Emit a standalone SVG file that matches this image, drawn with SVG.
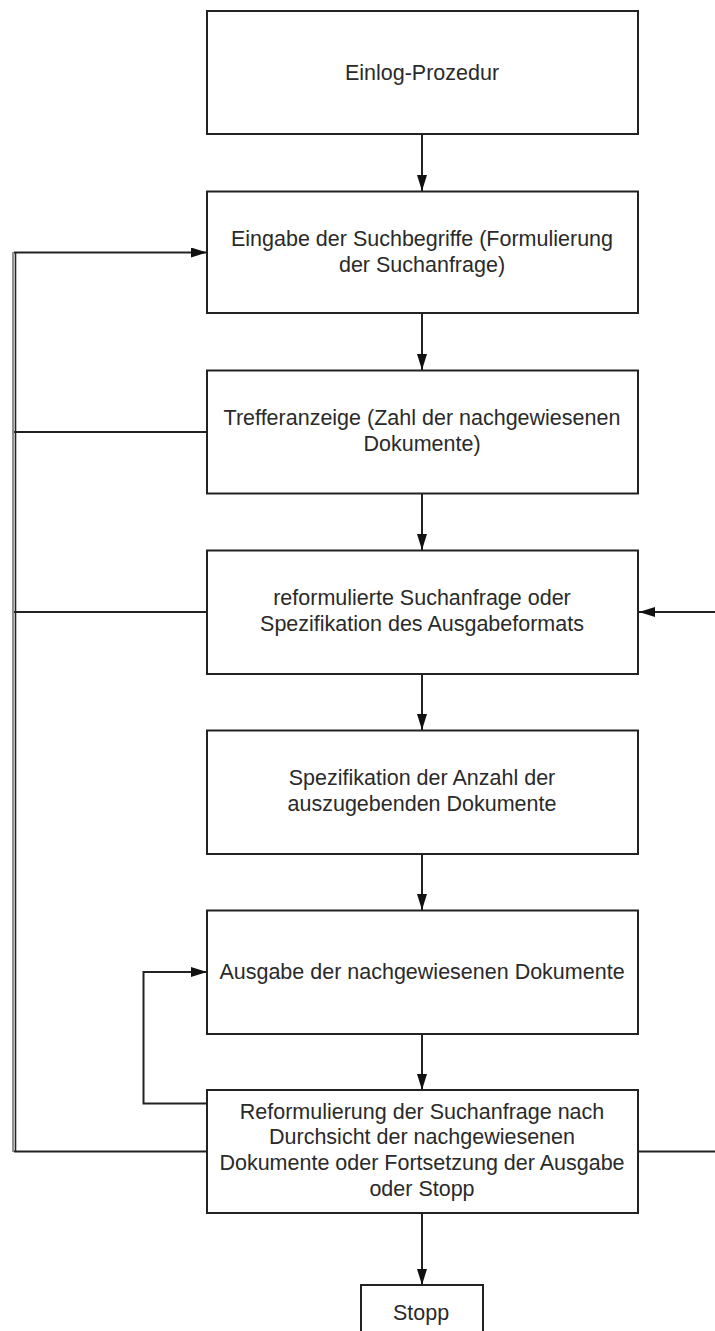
<svg xmlns="http://www.w3.org/2000/svg" width="715" height="1331" viewBox="0 0 715 1331">
  <defs>
    <style>
      .box { fill: #ffffff; stroke: #222222; stroke-width: 2; }
      .edge { fill: none; stroke: #222222; stroke-width: 2; }
      .label { font-family: "Liberation Sans", Arial, sans-serif; font-size: 21.5px; fill: #2a2a2a; text-anchor: middle; }
    </style>
    <marker id="arrow" markerUnits="userSpaceOnUse" markerWidth="17" markerHeight="11" refX="16" refY="5" orient="auto">
      <path d="M0,0 L16,5 L0,10 Z" fill="#111111"/>
    </marker>
  </defs>
  <rect width="715" height="1331" fill="#ffffff"/>

  <!-- connectors -->
  <g id="connectors">
    <!-- main downward flow -->
    <line class="edge" x1="422" y1="134" x2="422" y2="191" marker-end="url(#arrow)"/>
    <line class="edge" x1="422" y1="313" x2="422" y2="370" marker-end="url(#arrow)"/>
    <line class="edge" x1="422" y1="493" x2="422" y2="550" marker-end="url(#arrow)"/>
    <line class="edge" x1="422" y1="674" x2="422" y2="730" marker-end="url(#arrow)"/>
    <line class="edge" x1="422" y1="854" x2="422" y2="910" marker-end="url(#arrow)"/>
    <line class="edge" x1="422" y1="1034" x2="422" y2="1090" marker-end="url(#arrow)"/>
    <line class="edge" x1="422" y1="1213" x2="422" y2="1285" marker-end="url(#arrow)"/>

    <!-- left feedback bus -->
    <line x1="13" y1="252" x2="13" y2="1152" stroke="#555555" stroke-width="1.3"/>
    <line x1="15.5" y1="252" x2="15.5" y2="1152" stroke="#222222" stroke-width="1.6"/>
    <line class="edge" x1="14" y1="252.5" x2="207" y2="252.5" marker-end="url(#arrow)"/>
    <line class="edge" x1="14" y1="432" x2="207" y2="432"/>
    <line class="edge" x1="14" y1="612" x2="207" y2="612"/>
    <line class="edge" x1="14" y1="1151.5" x2="207" y2="1151.5"/>

    <!-- right feedback -->
    <line class="edge" x1="715" y1="612" x2="639" y2="612" marker-end="url(#arrow)"/>
    <line class="edge" x1="638" y1="1151.5" x2="715" y2="1151.5"/>

    <!-- inner loop back to output -->
    <polyline class="edge" points="212,1103.5 143.5,1103.5 143.5,972 207,972" marker-end="url(#arrow)"/>
  </g>

  <!-- nodes -->
  <g id="login">
    <rect class="box" x="207" y="11" width="431" height="123"/>
    <text class="label" x="422" y="80">Einlog-Prozedur</text>
  </g>
  <g id="search-terms">
    <rect class="box" x="207" y="191.5" width="431" height="121.5"/>
    <text class="label" x="422" y="245.5">Eingabe der Suchbegriffe (Formulierung</text>
    <text class="label" x="422" y="271.5">der Suchanfrage)</text>
  </g>
  <g id="hit-count">
    <rect class="box" x="207" y="370.5" width="431" height="123"/>
    <text class="label" x="422" y="425">Trefferanzeige (Zahl der nachgewiesenen</text>
    <text class="label" x="422" y="450.5">Dokumente)</text>
  </g>
  <g id="reformulate">
    <rect class="box" x="207" y="550.5" width="431" height="123.5"/>
    <text class="label" x="422" y="604.5">reformulierte Suchanfrage oder</text>
    <text class="label" x="422" y="630.5">Spezifikation des Ausgabeformats</text>
  </g>
  <g id="count-spec">
    <rect class="box" x="207" y="730.5" width="431" height="123.5"/>
    <text class="label" x="422" y="785">Spezifikation der Anzahl der</text>
    <text class="label" x="422" y="810.5">auszugebenden Dokumente</text>
  </g>
  <g id="output">
    <rect class="box" x="207" y="910.5" width="431" height="123.5"/>
    <text class="label" x="422" y="978.5">Ausgabe der nachgewiesenen Dokumente</text>
  </g>
  <g id="review">
    <rect class="box" x="207" y="1090" width="431" height="123"/>
    <text class="label" x="422" y="1118.5">Reformulierung der Suchanfrage nach</text>
    <text class="label" x="422" y="1144">Durchsicht der nachgewiesenen</text>
    <text class="label" x="422" y="1170">Dokumente oder Fortsetzung der Ausgabe</text>
    <text class="label" x="422" y="1195.5">oder Stopp</text>
  </g>
  <g id="stop">
    <rect class="box" x="361" y="1285" width="122" height="60"/>
    <text class="label" x="421" y="1320">Stopp</text>
  </g>
</svg>
